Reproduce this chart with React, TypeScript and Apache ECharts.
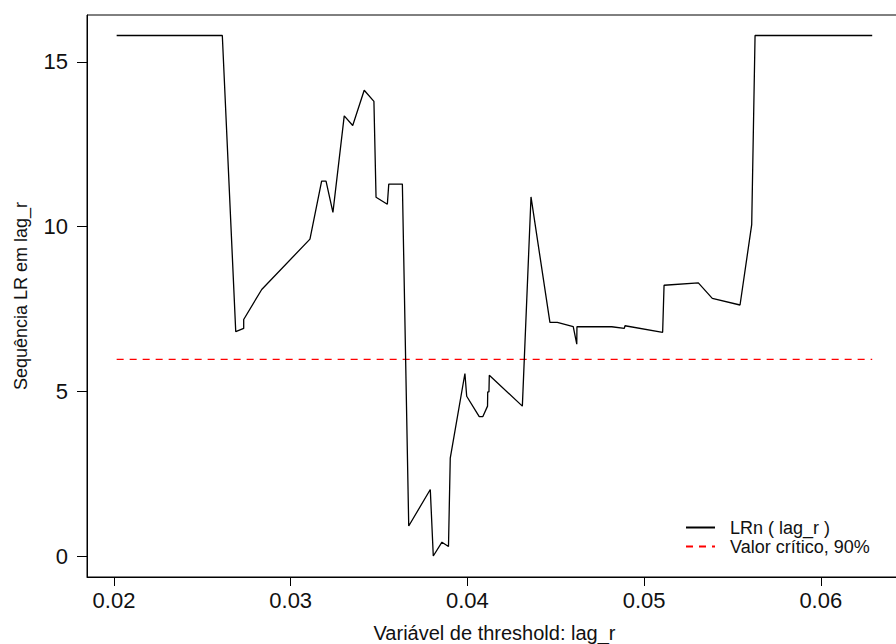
import React, { useEffect, useRef } from "react";
import * as echarts from "echarts";

// Threshold variable values (lag_r) and LR sequence
const thresholdX: number[] = [
  0.02015, 0.02613, 0.02689, 0.02734, 0.02734, 0.02836, 0.03109, 0.03175, 0.032, 0.03239,
  0.03303, 0.03351, 0.03416, 0.03471, 0.03483, 0.03547, 0.03555, 0.03632, 0.03668, 0.0379,
  0.03807, 0.03856, 0.03893, 0.03903, 0.03986, 0.03996, 0.04067, 0.04087, 0.04114, 0.04115,
  0.04122, 0.04124, 0.04311, 0.0436, 0.04467, 0.04509, 0.04599, 0.04619, 0.0462, 0.04817,
  0.04888, 0.04892, 0.05105, 0.05113, 0.05307, 0.05386, 0.05543, 0.05609, 0.05628, 0.06291,
];
const lrValues: number[] = [
  15.8, 15.8, 6.81, 6.91, 7.18, 8.09, 9.62, 11.38, 11.38, 10.43,
  13.36, 13.07, 14.14, 13.8, 10.89, 10.68, 11.29, 11.29, 0.91, 2.02,
  0.0, 0.42, 0.29, 2.97, 5.54, 4.85, 4.23, 4.23, 4.55, 4.98,
  4.98, 5.49, 4.55, 10.9, 7.09, 7.09, 6.96, 6.43, 6.96, 6.96,
  6.91, 6.99, 6.79, 8.22, 8.29, 7.82, 7.62, 10.06, 15.8, 15.8,
];
const criticalValue = 5.97;
const criticalX: number[] = [0.02015, 0.06291];

const xTicks: number[] = [0.02, 0.03, 0.04, 0.05, 0.06];
const yTicks: number[] = [0, 5, 10, 15];

const seriesNames = ["LRn ( lag_r )", "Valor crítico, 90%"];
const xTitle = "Variável de threshold: lag_r";
const yTitle = "Sequência LR em lag_r";

const FONT = "'Liberation Sans', Arial, Helvetica, sans-serif";

export default function App() {
  const ref = useRef<HTMLDivElement>(null);

  useEffect(() => {
    if (!ref.current) return;
    const chart = echarts.init(ref.current, undefined, { renderer: "svg" });
    const lrData = thresholdX.map((x, i) => [x, lrValues[i]]);
    const critData = criticalX.map((x) => [x, criticalValue]);

    chart.setOption({
      animation: false,
      backgroundColor: "#ffffff",
      textStyle: { fontFamily: FONT },
      grid: {
        left: 87,
        top: 15,
        right: -6,
        bottom: 67,
        containLabel: false,
        outerBoundsMode: "none",
        show: true,
        borderColor: "#000",
        borderWidth: 1,
        backgroundColor: "transparent",
      },
      legend: {
        orient: "vertical",
        left: 680,
        top: 513,
        itemWidth: 29,
        itemHeight: 10,
        itemGap: 0,
        itemStyle: { opacity: 0 },
        textStyle: {
          fontFamily: FONT,
          fontSize: 18,
          color: "#111",
          lineHeight: 19,
          padding: [0, 0, 0, 10],
        },
        data: seriesNames,
      },
      xAxis: {
        type: "value",
        min: 0.018472,
        max: 0.064596,
        name: xTitle,
        nameLocation: "middle",
        nameGap: 46,
        nameTextStyle: { fontFamily: FONT, fontSize: 20, color: "#111" },
        axisLine: { show: true, onZero: false, lineStyle: { color: "#000", width: 1 } },
        axisTick: {
          show: true,
          inside: false,
          length: 9,
          customValues: xTicks,
          lineStyle: { color: "#000", width: 1 },
        },
        axisLabel: {
          show: true,
          customValues: xTicks,
          margin: 12,
          fontFamily: FONT,
          fontSize: 22,
          color: "#111",
          formatter: (v: number) => v.toFixed(2),
        },
        splitLine: { show: false },
      },
      yAxis: {
        type: "value",
        min: -0.637,
        max: 16.423,
        name: yTitle,
        nameLocation: "middle",
        nameGap: 57,
        nameTextStyle: { fontFamily: FONT, fontSize: 18, color: "#111" },
        axisLine: { show: true, onZero: false, lineStyle: { color: "#000", width: 1 } },
        axisTick: {
          show: true,
          inside: false,
          length: 10,
          customValues: yTicks,
          lineStyle: { color: "#000", width: 1 },
        },
        axisLabel: {
          show: true,
          customValues: yTicks,
          margin: 19,
          fontFamily: FONT,
          fontSize: 22,
          color: "#111",
        },
        splitLine: { show: false },
      },
      series: [
        {
          name: seriesNames[0],
          type: "line",
          data: lrData,
          symbol: "none",
          showSymbol: false,
          lineStyle: { color: "#000", width: 1.3 },
          itemStyle: { color: "#000" },
          z: 3,
        },
        {
          name: seriesNames[1],
          type: "line",
          data: critData,
          symbol: "none",
          showSymbol: false,
          lineStyle: { color: "#FF0000", width: 1.4, type: [7, 6] },
          itemStyle: { color: "#FF0000" },
          z: 2,
        },
      ],
    });

    return () => {
      chart.dispose();
    };
  }, []);

  return (
    <div
      ref={ref}
      style={{ position: "fixed", left: 0, top: 0, width: 896, height: 644, background: "#fff" }}
    />
  );
}
